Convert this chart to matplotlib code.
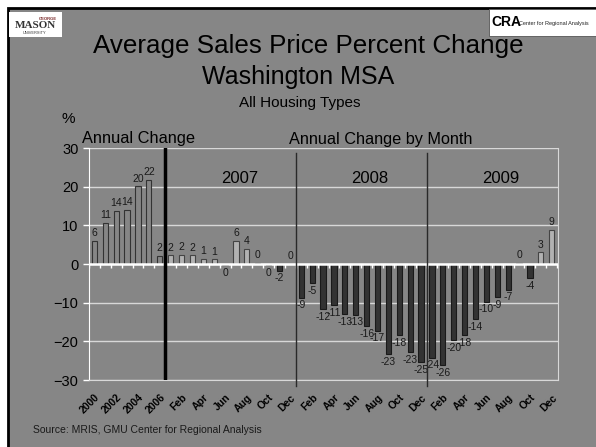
import matplotlib.pyplot as plt
import numpy as np
from matplotlib.patches import Rectangle

plt.rcParams["font.family"] = ["Liberation Sans", "DejaVu Sans"]

# annual change 2000-2006, then monthly change 2007-2009 (percent)
years = ["2000", "2001", "2002", "2003", "2004", "2005", "2006"]
annual = [6.0, 10.6, 13.7, 14.0, 20.1, 21.7, 2.0]
months = ["Jan", "Feb", "Mar", "Apr", "May", "Jun",
          "Jul", "Aug", "Sep", "Oct", "Nov", "Dec"]
m2007 = [2.2, 2.3, 2.2, 1.4, 1.2, -0.3, 6.0, 4.0, 0.3, -0.3, -1.7, 0.1]
m2008 = [-8.7, -5.0, -11.6, -10.6, -12.9, -13.1, -16.0, -17.2, -23.3, -18.4, -22.8, -25.4]
m2009 = [-24.2, -26.2, -19.7, -18.4, -14.3, -9.7, -8.6, -6.6, 0.3, -3.6, 3.0, 8.8]
year_labels = ["2007", "2008", "2009"]

cats = years + months * 3
vals = np.array(annual + m2007 + m2008 + m2009)
x = np.arange(len(vals))
n_ann = len(annual)

bg = "#868686"
fig = plt.figure(figsize=(5.96, 4.47), dpi=100)
fig.patch.set_facecolor("white")
# slide background with black border on top/left
fig.patches.append(Rectangle((8 / 596, -0.05), 1.1, (447 - 8) / 447 + 0.05,
                             transform=fig.transFigure, facecolor=bg,
                             edgecolor="black", linewidth=2, zorder=-10))

ax = fig.add_axes([89 / 596, 1 - 380 / 447, (557.7 - 89) / 596, (380 - 148) / 447])
ax.set_facecolor(bg)

colors = []
edges = []
for i, v in enumerate(vals):
    if i < n_ann:
        colors.append(bg)
        edges.append("#333333")
    elif v >= 0:
        colors.append("#b2b2b2")
        edges.append("#444444")
    else:
        colors.append("#333333")
        edges.append("#1a1a1a")
ax.bar(x, vals, width=0.48, color=colors, edgecolor=edges, linewidth=0.8, zorder=3)

for xi, v in zip(x, vals):
    lab = str(int(round(float(v))))
    if v >= 0:
        ax.annotate(lab, (xi, v), xytext=(0, 2), textcoords="offset points",
                    ha="center", va="bottom", fontsize=7.5, color="#1a1a1a")
    else:
        ax.annotate(lab, (xi, v), xytext=(0, -2), textcoords="offset points",
                    ha="center", va="top", fontsize=7.5, color="#1a1a1a")

ax.set_xlim(-0.5, len(vals) - 0.45)
ax.set_ylim(-30, 30)
ax.set_yticks(np.arange(-30, 31, 10))
ax.tick_params(axis="y", colors="white", labelcolor="black", labelsize=10.5, length=4, width=1)
ax.grid(axis="y", color="#d8d8d8", linewidth=1, zorder=1)
ax.set_xticks(x[::2])
ax.set_xticklabels(cats[::2], rotation=45, ha="right", rotation_mode="anchor",
                   fontsize=7.5, fontweight="bold")
ax.tick_params(axis="x", length=0, pad=9)
for side in ["top", "right", "bottom"]:
    ax.spines[side].set_color("#d8d8d8")
ax.spines["left"].set_color("white")
ax.spines["top"].set_visible(False)

# zero line with tick marks between the bars
ax.axhline(0, color="white", linewidth=1.8, zorder=4)
ax.plot(np.arange(len(vals) + 1) - 0.5, np.zeros(len(vals) + 1), ls="none",
        marker=3, markersize=3, color="white", markeredgewidth=1, zorder=4)

# separators
ax.axvline(n_ann - 0.5, color="black", linewidth=2.5, zorder=5, ymax=1.0)
for k in (1, 2):
    xs = n_ann + 12 * k - 0.5
    ax.plot([xs, xs], [28.7, -31.5], color="#2a2a2a", linewidth=1, zorder=5, clip_on=False)

for k, yl in enumerate(year_labels):
    ax.text(n_ann + 12 * k + 6.3, 22, yl, ha="center", va="center", fontsize=12)

ax.text(-1.15, 31.2, "Annual Change", ha="left", va="baseline", fontsize=11.8)
ax.text(n_ann + 10.9, 31.1, "Annual Change by Month", ha="left", va="baseline", fontsize=11.7)

fig.text(62 / 596, 1 - 119 / 447, "%", ha="left", va="center", fontsize=11)
fig.text(308 / 596, 1 - 46 / 447, "Average Sales Price Percent Change", ha="center",
         va="center", fontsize=18.7)
fig.text(298 / 596, 1 - 77 / 447, "Washington MSA", ha="center", va="center", fontsize=18)
fig.text(299.5 / 596, 1 - 103 / 447, "All Housing Types", ha="center", va="center", fontsize=11)
fig.text(33 / 596, 1 - 430 / 447, "Source: MRIS, GMU Center for Regional Analysis",
         ha="left", va="center", fontsize=7.5, color="#1a1a1a")

# logos
fig.patches.append(Rectangle((9 / 596, 1 - 37 / 447), 53 / 596, 25 / 447,
                             transform=fig.transFigure, facecolor="white",
                             edgecolor="none", zorder=2))
fig.text(48 / 596, 1 - 19 / 447, "GEORGE", ha="center", va="center", fontsize=3,
         color="#7a2a2a", fontweight="bold")
fig.text(35 / 596, 1 - 26 / 447, "MASON", ha="center", va="center", fontsize=8,
         family="Liberation Serif", fontweight="bold", color="#333333")
fig.text(35 / 596, 1 - 33 / 447, "UNIVERSITY", ha="center", va="center", fontsize=2.8,
         color="#333333")
fig.patches.append(Rectangle((489 / 596, 1 - 36 / 447), 0.2, 27 / 447,
                             transform=fig.transFigure, facecolor="white",
                             edgecolor="#555555", linewidth=0.6, zorder=2))
fig.text(491 / 596, 1 - 22 / 447, "CRA", ha="left", va="center", fontsize=10,
         fontweight="bold", color="black")
fig.text(519 / 596, 1 - 23 / 447, "Center for Regional Analysis", ha="left",
         va="center", fontsize=4, color="#222222")

fig.savefig("out.png", dpi=100, facecolor=fig.get_facecolor())
